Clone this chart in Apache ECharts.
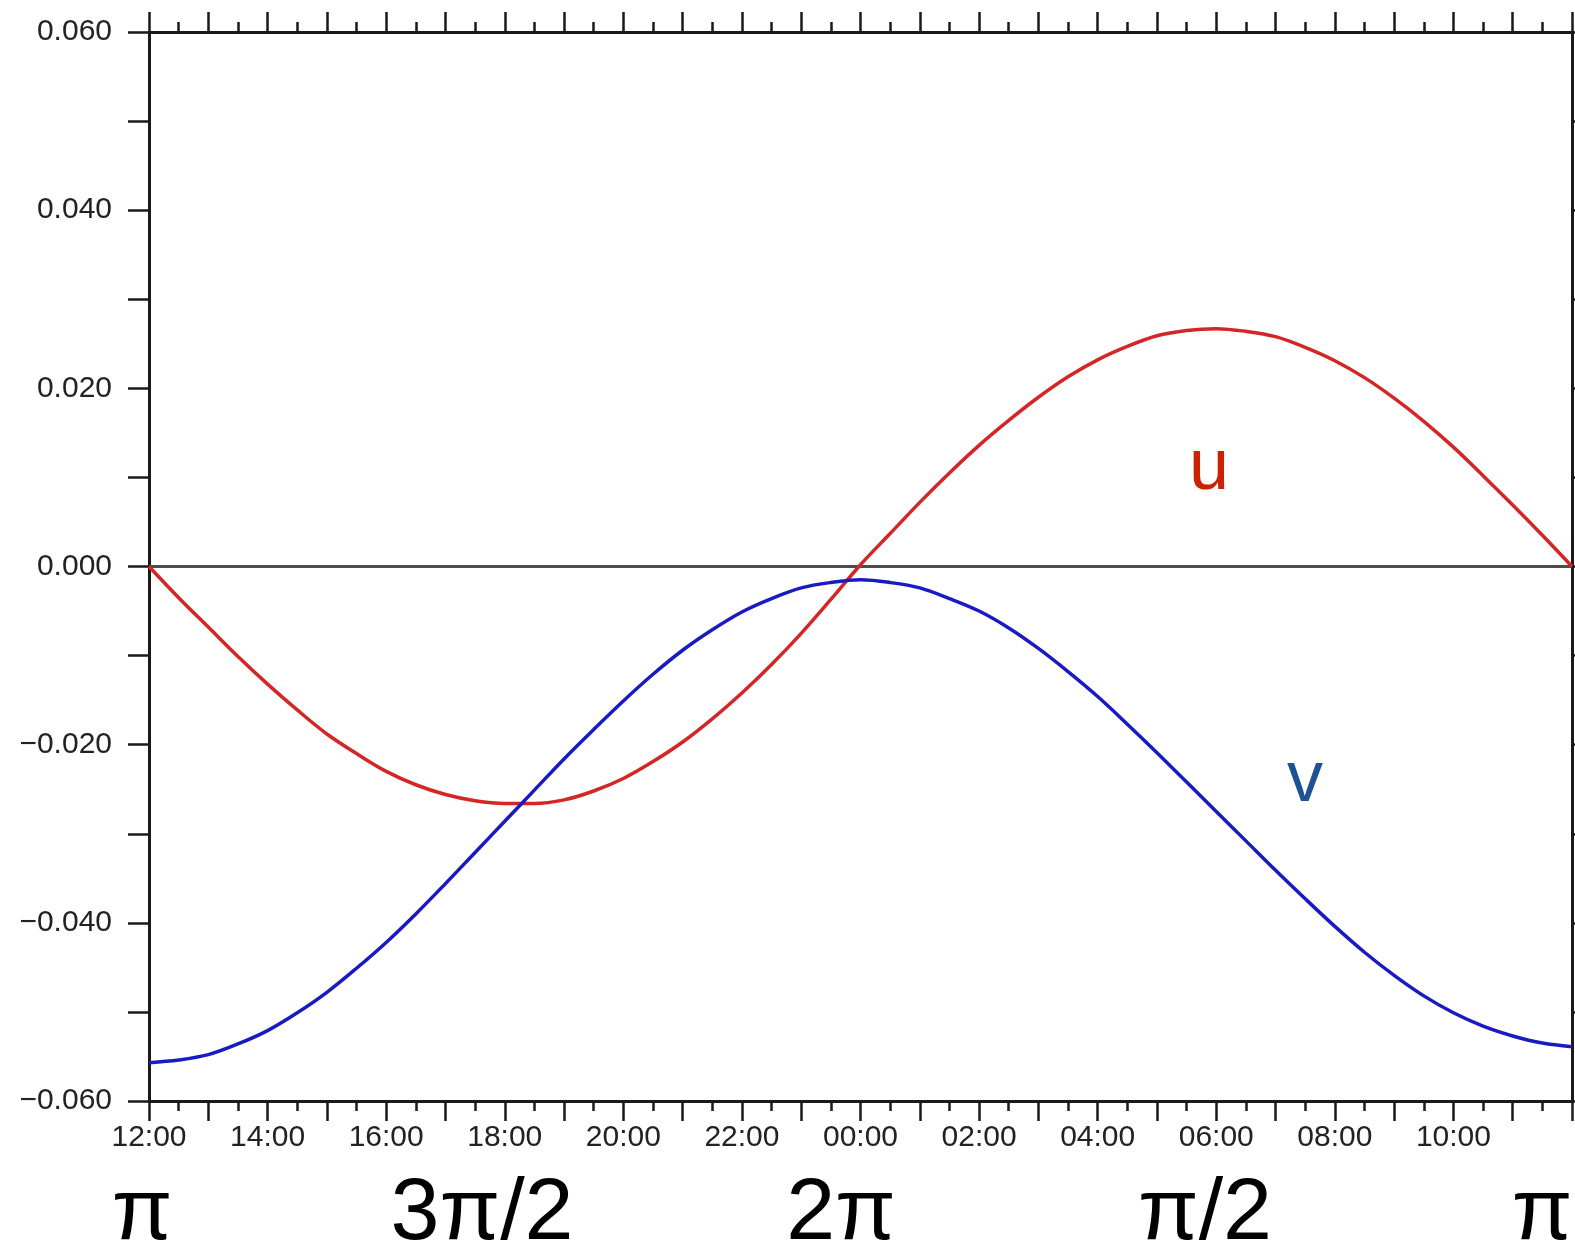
<!DOCTYPE html>
<html>
<head>
<meta charset="utf-8">
<script src="https://cdn.jsdelivr.net/npm/echarts@6/dist/echarts.min.js"></script>
<style>
  html, body { margin: 0; padding: 0; background: #ffffff; }
  #chart { width: 1575px; height: 1253px; }
</style>
</head>
<body>
<div id="chart"></div>
<script>
// Hours since 12:00 (0 = 12:00, 24 = 12:00 next day), every half hour
const hours = [0,0.5,1,1.5,2,2.5,3,3.5,4,4.5,5,5.5,6,6.5,7,7.5,8,8.5,9,9.5,10,10.5,11,11.5,
               12,12.5,13,13.5,14,14.5,15,15.5,16,16.5,17,17.5,18,18.5,19,19.5,20,20.5,21,21.5,22,22.5,23,23.5,24];
const uValues = [0.0000,-0.0035,-0.0068,-0.0101,-0.0132,-0.0161,-0.0188,-0.0210,-0.0230,-0.0245,-0.0256,-0.0263,
                 -0.0266,-0.0266,-0.0262,-0.0252,-0.0238,-0.0219,-0.0197,-0.0171,-0.0142,-0.0110,-0.0075,-0.0037,
                 0.0002,0.0037,0.0072,0.0105,0.0136,0.0164,0.0190,0.0213,0.0232,0.0247,0.0259,0.0265,
                 0.0267,0.0264,0.0258,0.0246,0.0231,0.0212,0.0189,0.0163,0.0134,0.0102,0.0069,0.0035,0.0000];
const vValues = [-0.0557,-0.0554,-0.0548,-0.0536,-0.0521,-0.0501,-0.0478,-0.0451,-0.0422,-0.0390,-0.0356,-0.0321,
                 -0.0286,-0.0251,-0.0216,-0.0183,-0.0151,-0.0121,-0.0094,-0.0071,-0.0051,-0.0036,-0.0024,-0.0018,
                 -0.0015,-0.0018,-0.0024,-0.0036,-0.0050,-0.0069,-0.0092,-0.0118,-0.0146,-0.0177,-0.0209,-0.0242,
                 -0.0275,-0.0308,-0.0341,-0.0373,-0.0404,-0.0433,-0.0459,-0.0482,-0.0501,-0.0516,-0.0527,-0.0535,-0.0539];
const xTickLabels = ['12:00','14:00','16:00','18:00','20:00','22:00','00:00','02:00','04:00','06:00','08:00','10:00'];
const yTickLabels = ['\u22120.060','\u22120.040','\u22120.020','0.000','0.020','0.040','0.060'];
const seriesNames = ['u','v'];
const phaseLabels = ['\u03c0','3\u03c0/2','2\u03c0','\u03c0/2','\u03c0'];

const FONT = "'Liberation Sans', Arial, Helvetica, sans-serif";
const uData = hours.map((h, i) => [h, uValues[i]]);
const vData = hours.map((h, i) => [h, vValues[i]]);

function xFmt(v) {
  const h = Math.round(v);
  if (h % 2 !== 0 || h >= 24) return '';
  return xTickLabels[h / 2] || '';
}
function yFmt(v) {
  const k = Math.round(v * 100);
  if (k % 2 !== 0) return '';
  return yTickLabels[(k + 6) / 2] || '';
}

const axisLineStyle = { color: '#1a1a1a', width: 3 };
const tickStyle = { color: '#1a1a1a', width: 2.5 };

const xAxisBase = {
  type: 'value', min: 0, max: 24, interval: 1,
  axisLine: { show: true, onZero: false, lineStyle: axisLineStyle },
  axisTick: { show: true, length: 20, lineStyle: tickStyle },
  minorTick: { show: true, splitNumber: 2, length: 10, lineStyle: tickStyle },
  splitLine: { show: false },
  minorSplitLine: { show: false }
};
const yAxisBase = {
  type: 'value', min: -0.06, max: 0.06, interval: 0.01,
  axisLine: { show: true, onZero: false, lineStyle: axisLineStyle },
  axisTick: { show: true, length: 21, lineStyle: tickStyle },
  splitLine: { show: false }
};

const chart = echarts.init(document.getElementById('chart'), null, { renderer: 'canvas' });
chart.setOption({
  backgroundColor: '#ffffff',
  animation: false,
  grid: { left: 149, right: 3, top: 32, bottom: 152, containLabel: false },
  xAxis: [
    Object.assign({}, xAxisBase, {
      position: 'bottom',
      axisLabel: { show: true, formatter: xFmt, margin: 22, color: '#222', fontSize: 30, fontFamily: FONT,
                   showMinLabel: true, showMaxLabel: true }
    }),
    Object.assign({}, xAxisBase, { position: 'top', axisLabel: { show: false } })
  ],
  yAxis: [
    Object.assign({}, yAxisBase, {
      position: 'left',
      axisLabel: { show: true, formatter: yFmt, margin: 37, color: '#222', fontSize: 30, fontFamily: FONT }
    }),
    Object.assign({}, yAxisBase, { position: 'right', axisLabel: { show: false } })
  ],
  series: [
    {
      name: 'zero', type: 'line', data: [], silent: true,
      markLine: {
        z: 1, silent: true, symbol: ['none', 'none'], label: { show: false },
        lineStyle: { color: '#4d4d4d', width: 3, type: 'solid' },
        data: [{ yAxis: 0 }]
      }
    },
    {
      name: seriesNames[0], type: 'line', data: uData, smooth: 0.35, showSymbol: false, z: 3,
      lineStyle: { color: '#d42626', width: 3.5 }, itemStyle: { color: '#d42626' }
    },
    {
      name: seriesNames[1], type: 'line', data: vData, smooth: 0.35, showSymbol: false, z: 3,
      lineStyle: { color: '#1a1ac4', width: 3.5 }, itemStyle: { color: '#1a1ac4' }
    }
  ],
  graphic: [
    { type: 'text', x: 1209, y: 469, style: { text: seriesNames[0], fill: '#cc2200', font: '72px ' + FONT, textAlign: 'center', textVerticalAlign: 'middle' } },
    { type: 'text', x: 1305, y: 781, style: { text: seriesNames[1], fill: '#1d5394', font: '72px ' + FONT, textAlign: 'center', textVerticalAlign: 'middle' } },
    { type: 'text', x: 142, y: 1215, style: { text: phaseLabels[0], fill: '#000', font: '88px ' + FONT, textAlign: 'center', textVerticalAlign: 'middle' } },
    { type: 'text', x: 482, y: 1215, style: { text: phaseLabels[1], fill: '#000', font: '88px ' + FONT, textAlign: 'center', textVerticalAlign: 'middle' } },
    { type: 'text', x: 841, y: 1215, style: { text: phaseLabels[2], fill: '#000', font: '88px ' + FONT, textAlign: 'center', textVerticalAlign: 'middle' } },
    { type: 'text', x: 1205, y: 1215, style: { text: phaseLabels[3], fill: '#000', font: '88px ' + FONT, textAlign: 'center', textVerticalAlign: 'middle' } },
    { type: 'text', x: 1542, y: 1215, style: { text: phaseLabels[4], fill: '#000', font: '88px ' + FONT, textAlign: 'center', textVerticalAlign: 'middle' } }
  ]
});
</script>
</body>
</html>
